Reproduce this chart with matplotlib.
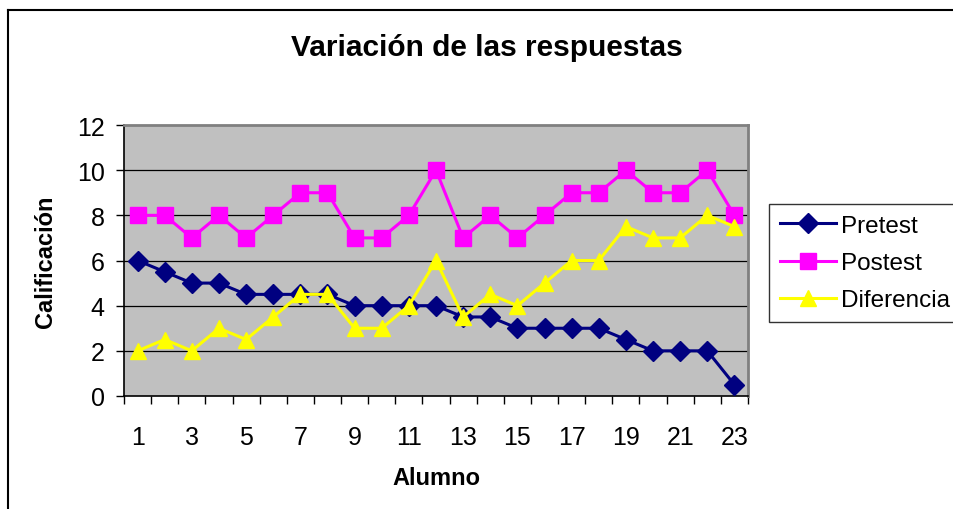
import matplotlib
matplotlib.use("Agg")
import matplotlib.pyplot as plt
from matplotlib.lines import Line2D
from matplotlib.ticker import FixedLocator, NullFormatter, FixedFormatter

alumnos = list(range(1, 24))
pretest = [6, 5.5, 5, 5, 4.5, 4.5, 4.5, 4.5, 4, 4, 4, 4, 3.5, 3.5, 3, 3, 3, 3, 2.5, 2, 2, 2, 0.5]
postest = [8, 8, 7, 8, 7, 8, 9, 9, 7, 7, 8, 10, 7, 8, 7, 8, 9, 9, 10, 9, 9, 10, 8]
diferencia = [2, 2.5, 2, 3, 2.5, 3.5, 4.5, 4.5, 3, 3, 4, 6, 3.5, 4.5, 4, 5, 6, 6, 7.5, 7, 7, 8, 7.5]
xtick_labels = [str(i) for i in range(1, 24, 2)]
yticks = [0, 2, 4, 6, 8, 10, 12]

plt.rcParams['font.family'] = ['Liberation Sans', 'DejaVu Sans']

fig = plt.figure(figsize=(9.54, 5.10), dpi=100)
fig.patch.set_facecolor('white')
ax = fig.add_axes([124/954, 1-397/510, (748-124)/954, (397-126)/510])
ax.set_facecolor('#C0C0C0')

for y in yticks[1:-1]:
    ax.axhline(y, color='black', lw=0.9, zorder=1)

ax.plot(alumnos, pretest, color='#000080', lw=2.2, marker='D', ms=10, label='Pretest', zorder=3)
ax.plot(alumnos, postest, color='#FF00FF', lw=2.2, marker='s', ms=11, label='Postest', zorder=3)
ax.plot(alumnos, diferencia, color='#FFFF00', lw=2.2, marker='^', ms=12, label='Diferencia', zorder=3)

ax.set_xlim(0.5, 23.5)
ax.set_ylim(0, 12)
ax.set_yticks(yticks)
ax.tick_params(axis='y', labelsize=18, length=6, width=1, direction='out', pad=8)
ax.xaxis.set_major_locator(FixedLocator([i + 0.5 for i in range(0, 24)]))
ax.xaxis.set_major_formatter(NullFormatter())
ax.xaxis.set_minor_locator(FixedLocator(list(range(1, 24, 2))))
ax.xaxis.set_minor_formatter(FixedFormatter(xtick_labels))
ax.tick_params(axis='x', which='major', length=6, width=1, direction='out')
ax.tick_params(axis='x', which='minor', length=0, labelsize=18, pad=21)

for s in ['left', 'bottom']:
    ax.spines[s].set_color('black')
    ax.spines[s].set_linewidth(1.2)
for s in ['top', 'right']:
    ax.spines[s].set_color('#808080')
    ax.spines[s].set_linewidth(2)

ax.set_xlabel('Alumno', fontsize=17, fontweight='bold', labelpad=12)
ax.set_ylabel('Calificación', fontsize=17, fontweight='bold', labelpad=14)
fig.text(487/954, 1-48/510, 'Variación de las respuestas', fontsize=21.5, fontweight='bold',
         ha='center', va='center')

leg = ax.legend(loc='upper left', bbox_to_anchor=(769/954, 1-205/510), bbox_transform=fig.transFigure,
                fontsize=17.5, frameon=True, fancybox=False, edgecolor='black', handlelength=2.3,
                borderpad=0.45, labelspacing=0.62, handletextpad=0.2, borderaxespad=0)
leg.get_frame().set_linewidth(1)

# outer chart border
fig.add_artist(Line2D([8/954, 8/954], [0, 1-11/510], transform=fig.transFigure, color='black', lw=1.5))
fig.add_artist(Line2D([8/954, 1], [1-11/510, 1-11/510], transform=fig.transFigure, color='black', lw=1.5))

fig.savefig('out.png', dpi=100)
